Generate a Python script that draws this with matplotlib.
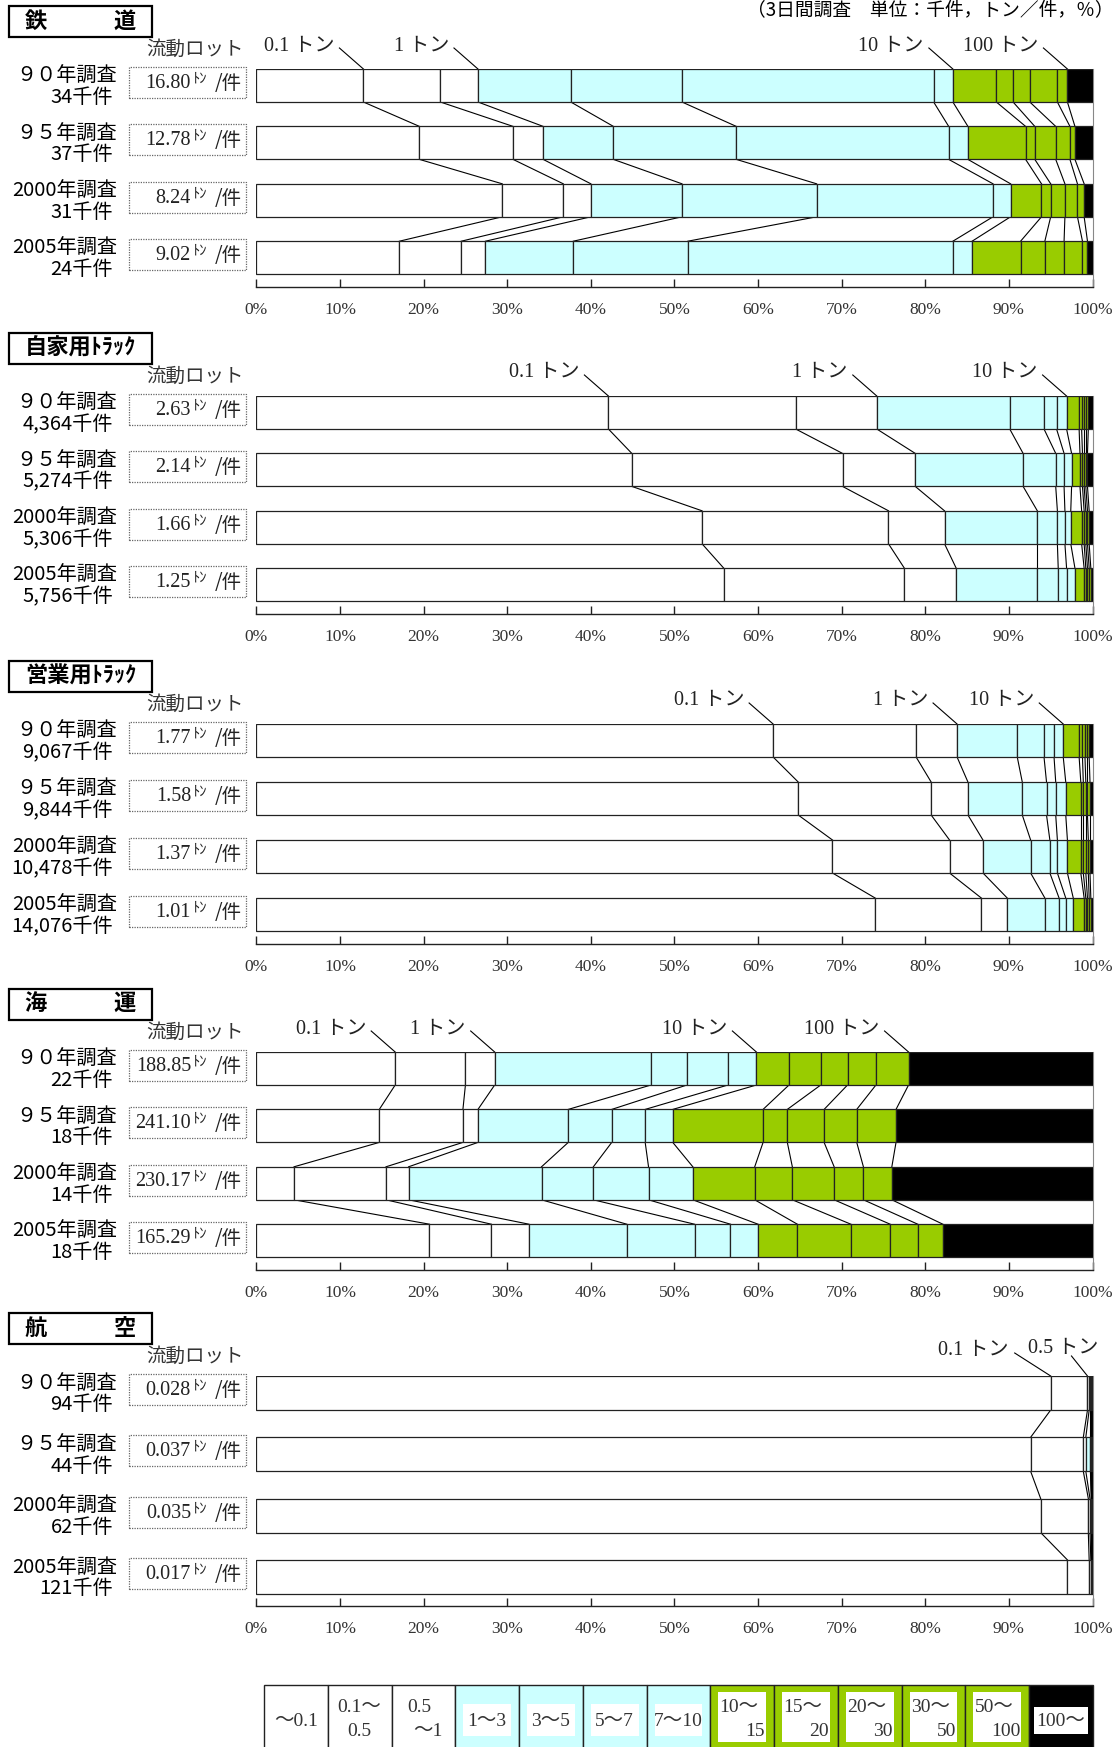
import matplotlib
matplotlib.use("Agg")
import matplotlib.pyplot as plt
import numpy as np
from matplotlib.patches import Rectangle

W, H = 1120, 1747
JP = ['Noto Sans CJK JP', 'DejaVu Sans']
SERIF = ['Liberation Serif', 'Noto Sans CJK JP', 'DejaVu Sans']

# size classes (legend) and colours
size_top = ['～0.1', '0.1～', '0.5', '1～3', '3～5', '5～7', '7～10',
            '10～', '15～', '20～', '30～', '50～', '100～']
size_bottom = ['', '0.5', '～1', '', '', '', '', '15', '20', '30', '50', '100', '']
seg_colors = ['white'] * 3 + ['#CCFFFF'] * 4 + ['#99CC00'] * 5 + ['black']

years = ['９０年調査', '９５年調査', '2000年調査', '2005年調査']

# cumulative share (%) at each class boundary
rail_cum = [
    [12.8, 22.0, 26.5, 37.6, 50.9, 81.0, 83.3, 88.5, 90.5, 92.5, 95.8, 97.0],
    [19.5, 30.7, 34.3, 42.7, 57.4, 82.8, 85.1, 92.0, 93.1, 95.6, 97.3, 97.9],
    [29.4, 36.7, 40.0, 50.9, 67.0, 88.1, 90.2, 93.9, 95.0, 96.7, 98.2, 99.0],
    [17.1, 24.5, 27.4, 37.9, 51.6, 83.3, 85.6, 91.4, 94.3, 96.6, 98.8, 99.4],
]
rail_lot = ['16.80', '12.78', '8.24', '9.02']
rail_cnt = ['34千件', '37千件', '31千件', '24千件']

private_cum = [
    [42.1, 64.5, 74.2, 90.1, 94.2, 95.7, 96.9, 98.4, 98.7, 99.0, 99.2, 99.5],
    [44.9, 70.1, 78.8, 91.7, 95.6, 96.6, 97.5, 98.5, 98.8, 99.0, 99.2, 99.4],
    [53.3, 75.6, 82.3, 93.4, 95.8, 96.7, 97.4, 98.7, 99.0, 99.2, 99.4, 99.6],
    [55.9, 77.5, 83.7, 93.4, 95.9, 96.9, 97.9, 99.0, 99.2, 99.4, 99.6, 99.8],
]
private_lot = ['2.63', '2.14', '1.66', '1.25']
private_cnt = ['4,364千件', '5,274千件', '5,306千件', '5,756千件']

commercial_cum = [
    [61.8, 78.9, 83.8, 91.0, 94.2, 95.4, 96.5, 98.4, 98.8, 99.1, 99.4, 99.6],
    [64.8, 80.7, 85.1, 91.6, 94.5, 95.6, 96.8, 98.6, 98.9, 99.2, 99.4, 99.7],
    [68.9, 82.9, 86.9, 92.6, 94.9, 95.8, 97.0, 98.6, 98.9, 99.2, 99.5, 99.7],
    [74.0, 86.7, 89.8, 94.3, 96.0, 96.8, 97.7, 99.0, 99.2, 99.4, 99.6, 99.8],
]
commercial_lot = ['1.77', '1.58', '1.37', '1.01']
commercial_cnt = ['9,067千件', '9,844千件', '10,478千件', '14,076千件']

sea_cum = [
    [16.6, 25.0, 28.5, 47.2, 51.5, 56.4, 59.8, 63.7, 67.5, 70.7, 74.1, 78.0],
    [14.7, 24.7, 26.5, 37.3, 42.5, 46.5, 49.8, 60.6, 63.5, 67.9, 71.8, 76.5],
    [4.5, 15.5, 18.2, 34.1, 40.3, 46.9, 52.2, 59.6, 64.1, 69.1, 72.6, 76.0],
    [20.7, 28.1, 32.6, 44.3, 52.4, 56.7, 60.0, 64.7, 71.1, 75.8, 79.1, 82.1],
]
sea_lot = ['188.85', '241.10', '230.17', '165.29']
sea_cnt = ['22千件', '18千件', '14千件', '18千件']

air_cum = [
    [95.0, 99.4, 99.6, 99.75, 99.8, 99.85, 99.88, 99.9, 99.92, 99.94, 99.96, 99.98],
    [92.6, 98.9, 99.2, 99.75, 99.8, 99.84, 99.87, 99.9, 99.92, 99.94, 99.96, 99.98],
    [93.8, 99.5, 99.7, 99.85, 99.88, 99.9, 99.92, 99.94, 99.95, 99.96, 99.97, 99.98],
    [97.0, 99.6, 99.8, 99.88, 99.9, 99.92, 99.94, 99.95, 99.96, 99.97, 99.98, 99.99],
]
air_lot = ['0.028', '0.037', '0.035', '0.017']
air_cnt = ['94千件', '44千件', '62千件', '121千件']

marks_4 = [(0, '0.1 トン'), (2, '1 トン'), (6, '10 トン'), (11, '100 トン')]
marks_3 = [(0, '0.1 トン'), (2, '1 トン'), (6, '10 トン')]
marks_air = [(0, '0.1 トン'), (1, '0.5 トン')]

X0, X1 = 256.4, 1092.5
PPX = (X1 - X0) / 100.0

fig = plt.figure(figsize=(W / 100, H / 100), dpi=100)


def ftext(x, y, s, **kw):
    return fig.text(x / W, 1 - y / H, s, **kw)


def frect(x0, y0, x1, y1, **kw):
    r = Rectangle((x0 / W, 1 - y1 / H), (x1 - x0) / W, (y1 - y0) / H,
                  transform=fig.transFigure, **kw)
    fig.add_artist(r)
    return r


def draw_panel(top, pitch, title, cum, lots, cnts, marks, bar_h=33, gap=13, air=False):
    n = len(cum)
    ax_bot = top + (n - 1) * pitch + bar_h + gap
    ax = fig.add_axes([X0 / W, 1 - ax_bot / H, (X1 - X0) / W, (ax_bot - top) / H])
    ax.set_xlim(0, 100)
    ax.set_ylim(ax_bot, top)
    ax.patch.set_visible(False)

    for r in range(n):
        edges = np.concatenate([[0], cum[r], [100]])
        yc = top + r * pitch + bar_h / 2
        ax.barh(yc, np.diff(edges), left=edges[:-1], height=bar_h,
                color=seg_colors, edgecolor='#222222', linewidth=0.9, zorder=3)
        if r < n - 1:
            for b0, b1 in zip(cum[r], cum[r + 1]):
                ax.plot([b0, b1], [yc + bar_h / 2, yc + pitch - bar_h / 2],
                        color='black', lw=0.8, zorder=2)

        # row labels
        ftext(117, yc - 9, years[r], ha='right', va='center', fontsize=14.5, family=JP)
        ftext(113, yc + 12, cnts[r], ha='right', va='center', fontsize=14.5, family=JP)
        # lot box
        btop = yc - bar_h / 2 - 2
        frect(128.6, btop, 246.4, btop + 31, fill=False, ls=(0, (1, 1)),
              ec='#666666', lw=0.9)
        cy = btop + 15.5
        ftext(191, cy + 1, lots[r], ha='right', va='center', fontsize=14.5,
              family=SERIF, color='#222222')
        ftext(192.5, cy - 4, 'ﾄﾝ', ha='left', va='center', fontsize=10.5, family=JP,
              color='#222222')
        ftext(242, cy + 1, '/件', ha='right', va='center', fontsize=14,
              family=JP, color='#222222')

    # title box
    frect(9, top - 63, 152, top - 32, fill=False, ec='black', lw=1.6)
    ftext(80.5, top - 47.5, title, ha='center', va='center', fontsize=16,
          family=JP, fontweight='bold')
    ftext(195, top - 20, '流動ロット', ha='center', va='center', fontsize=14,
          family=JP, color='#333333')

    # boundary markers
    for k, (idx, lab) in enumerate(marks):
        bx = cum[0][idx]
        if air and k == 1:
            ax.plot([bx - 16 / PPX, bx], [top - 20, top], color='black', lw=0.8,
                    clip_on=False)
            ax.text(bx + 11 / PPX, top - 27.5, lab, ha='right', va='center',
                    fontsize=14.5, family=SERIF, color='#222222', clip_on=False)
        elif air:
            ax.plot([bx - 36 / PPX, bx], [top - 23, top], color='black', lw=0.8,
                    clip_on=False)
            ax.text(bx - 42 / PPX, top - 25, lab, ha='right', va='center',
                    fontsize=14.5, family=SERIF, color='#222222', clip_on=False)
        else:
            ax.plot([bx - 24 / PPX, bx], [top - 21, top], color='black', lw=0.8,
                    clip_on=False)
            ax.text(bx - 29 / PPX, top - 23, lab, ha='right', va='center',
                    fontsize=14.5, family=SERIF, color='#222222', clip_on=False)

    for s in ['top', 'left']:
        ax.spines[s].set_visible(False)
    ax.spines['right'].set_color('#888888')
    ax.spines['right'].set_linewidth(0.8)
    ax.spines['bottom'].set_color('#222222')
    ax.spines['bottom'].set_linewidth(1.0)
    ax.set_yticks([])
    ticks = list(range(0, 101, 10))
    ax.set_xticks(ticks)
    ax.set_xticklabels([f'{t}%' for t in ticks], family=SERIF, fontsize=12.5,
                       color='#333333')
    ax.tick_params(axis='x', direction='in', length=6, width=1.0, pad=11,
                   color='#222222')
    return ax


draw_panel(69, 57.4, '鉄　　　道', rail_cum, rail_lot, rail_cnt, marks_4)
draw_panel(396, 57.4, '自家用ﾄﾗｯｸ', private_cum, private_lot, private_cnt, marks_3)
draw_panel(724, 58.0, '営業用ﾄﾗｯｸ', commercial_cum, commercial_lot, commercial_cnt, marks_3)
draw_panel(1052, 57.4, '海　　　運', sea_cum, sea_lot, sea_cnt, marks_4)
draw_panel(1376, 61.3, '航　　　空', air_cum, air_lot, air_cnt, marks_air, bar_h=34, gap=12, air=True)

# unit note at top right
ftext(1114, 10, '（3日間調査　単位：千件，トン／件，％）', ha='right', va='center',
      fontsize=13.5, family=JP)

# legend row at the bottom
L0, L1 = 264, 1093
cw = (L1 - L0) / len(size_top)
for i in range(len(size_top)):
    x0 = L0 + i * cw
    x1 = x0 + cw
    frect(x0, 1685, x1, 1765, fc=seg_colors[i], ec='#222222', lw=1.0)
    col = seg_colors[i]
    if col == '#CCFFFF':
        frect(x0 + 8, 1704, x1 - 8, 1736, fc='white', ec='none')
    elif col == '#99CC00':
        frect(x0 + 8, 1692, x1 - 8, 1742, fc='white', ec='none')
    elif col == 'black':
        frect(x0 + 5, 1707, x1 - 5, 1734, fc='white', ec='none')
    xc = (x0 + x1) / 2
    kw = dict(fontsize=14, family=SERIF, color='#333333', va='center')
    if size_bottom[i] == '':
        ftext(xc, 1721, size_top[i], ha='center', **kw)
    elif i == 1:
        ftext(xc, 1707, size_top[i], ha='center', **kw)
        ftext(xc, 1731, size_bottom[i], ha='center', **kw)
    elif i == 2:
        ftext(xc - 4, 1707, size_top[i], ha='center', **kw)
        ftext(xc + 4, 1731, size_bottom[i], ha='center', **kw)
    else:
        ftext(x0 + 9, 1707, size_top[i], ha='left', **kw)
        ftext(x1 - 9, 1731, size_bottom[i], ha='right', **kw)

fig.savefig('out.png', dpi=100)
